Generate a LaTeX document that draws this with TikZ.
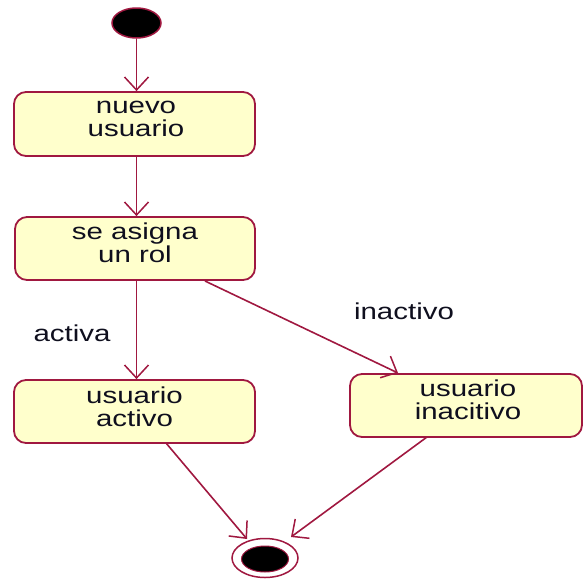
\documentclass[tikz,border=0pt]{standalone}
\usepackage{fontspec}
\setmainfont{Liberation Sans}[FakeStretch=1.28]
\usetikzlibrary{arrows.meta,shapes.geometric}
\definecolor{umlline}{RGB}{160,24,64}
\definecolor{umlfill}{RGB}{255,255,204}
\definecolor{umltext}{RGB}{15,15,30}
\tikzset{
  statebox/.style={draw=umlline, fill=umlfill, line width=1.8pt, rounded corners=12pt,
    inner sep=0pt},
  statetext/.style={text=umltext, align=center, inner sep=0pt,
    font=\fontsize{23}{23}\selectfont},
  lbltext/.style={text=umltext, inner sep=0pt, font=\fontsize{23}{23}\selectfont},
  flow/.style={draw=umlline, line width=1.6pt,
    -{Straight Barb[length=13pt,width=24pt,line width=1.5pt]}},
}
\begin{document}
\begin{tikzpicture}[x=1pt,y=-1pt]
  \useasboundingbox (0,0) rectangle (584,582);
  % initial pseudo-state
  \node[draw=umlline, fill=black, line width=1.5pt, ellipse, minimum width=49pt,
        minimum height=30pt, inner sep=0pt] (start) at (136.5,23) {};
  % states
  \node[statebox, minimum width=241pt, minimum height=64pt] (nuevo) at (134.5,124) {};
  \node[statetext] (nuevoT) at (136,119) {nuevo\\usuario};
  \node[statebox, minimum width=240pt, minimum height=63pt] (rol) at (135,248.5) {};
  \node[statetext] (rolT) at (135,243) {se asigna\\un rol};
  \node[statebox, minimum width=241pt, minimum height=63pt] (activo) at (134.5,411.5) {};
  \node[statetext] (activoT) at (134.5,407) {usuario\\activo};
  \node[statebox, minimum width=232pt, minimum height=63pt] (inact) at (466,405.5) {};
  \node[statetext] (inactT) at (468,400) {usuario\\inacitivo};
  % final pseudo-state
  \node[draw=umlline, fill=white, line width=1.5pt, ellipse, minimum width=66pt,
        minimum height=39pt, inner sep=0pt] (finO) at (265,558) {};
  \node[draw=umlline, fill=black, line width=1pt, ellipse, minimum width=47pt,
        minimum height=26pt, inner sep=0pt] (fin) at (265,559) {};
  % transitions
  \draw[flow] (start) -- (nuevo.north -| start);
  \draw[flow] (nuevo.south -| start) -- (rol.north -| start);
  \draw[flow] (rol.south -| start) -- (activo.north -| start);
  \coordinate (rolR) at (205,281);
  \coordinate (inactIn) at (398,373);
  \draw[flow] (rolR) -- (inactIn);
  \coordinate (activoOut) at (166,443);
  \coordinate (finL) at (247,539);
  \draw[flow] (activoOut) -- (finL);
  \coordinate (inactOut) at (427,437);
  \coordinate (finR) at (291,537);
  \draw[flow] (inactOut) -- (finR);
  % guards
  \node[lbltext] (lblA) at (72,333) {activa};
  \node[lbltext] (lblI) at (404,311) {inactivo};
\end{tikzpicture}
\end{document}
